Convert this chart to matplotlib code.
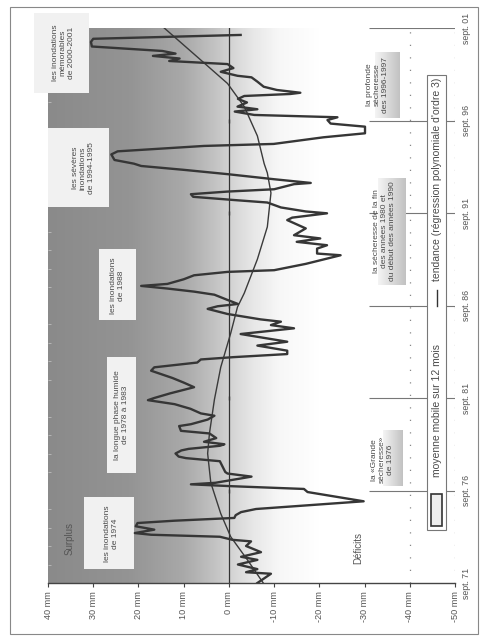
import matplotlib
matplotlib.use("Agg")
import matplotlib.pyplot as plt
from matplotlib.colors import LinearSegmentedColormap
from matplotlib.patches import Rectangle
from matplotlib.ticker import MultipleLocator
import numpy as np

# 12-month moving average of rainfall surplus/deficit, months counted from sept. 1971
months = [0, 6, 7, 9, 12, 15, 17, 20, 24, 27, 28, 30, 31.3, 32.4, 34.6, 36.8, 38.9, 40.4, 42.2,
          44, 46, 48, 53, 59, 61, 62.8, 64, 65, 69, 71, 72, 76, 79, 81, 82, 84, 86, 87, 89, 90,
          91.6, 94, 97, 98.7, 101.8, 103, 106, 108.5, 110, 113, 116, 118.6, 120, 123, 127, 130,
          133, 137.7, 139.9, 143, 145, 146.5, 148.5, 150.7, 154, 156.5, 160, 161.5, 165.2, 167.3,
          169.5, 171, 174.5, 177.8, 179.5, 181, 183.6, 187, 189, 191, 192.7, 194, 197, 199.6,
          201.8, 202.9, 207, 212.6, 213.7, 216.9, 219.1, 221.3, 223.5, 225.6, 230, 235.4, 237,
          239.8, 241, 243.6, 246.8, 248.4, 250.5, 252.2, 253.9, 255.4, 258.7, 259.5, 261.9, 265.2,
          268, 270.5, 272, 274.4, 278, 280, 283.5, 284.8, 289.1, 291.7, 296, 298, 300.3, 302.1,
          303.6, 305.8, 307.3, 309, 311.7, 314, 315.9, 317.2, 318, 319.8, 321.9, 325.2, 328, 329,
          331.6, 334, 336.6, 338.6, 340.2, 341.9, 343.4, 345.1, 348, 351, 353, 355.5]
values_mm = [-6.3, -9.3, -3.8, -6.3, -2.0, -6.3, -2.7, -7.1, -3.8, -4.9, -0.8, 2.0, 17.2, 20.8,
             16.5, 20.6, 20.2, 12.1, -1.2, -1.5, -2.7, -6.0, -29.8, -17.4, -16.6, -0.5, 8.4, 3.0,
             -5.0, 0.3, 0.8, 1.5, 2.0, 9.5, 11.1, 11.8, 10.5, 8.9, 2.0, 1.0, 5.5, 2.8, 4.3, 10.6,
             11.0, 8.4, 4.7, 3.2, 6.2, 8.5, 12.0, 17.9, 16.5, 13.0, 7.7, 10.0, 12.5, 17.2, 16.5,
             7.0, 6.2, -1.0, -12.9, -12.9, -6.3, -12.9, -5.6, -2.6, -14.4, -9.3, -11.5, -7.0, 0.3,
             4.7, 2.5, -2.0, 0.3, 3.2, 7.7, 13.6, 19.4, 13.6, 10.0, 7.7, 0.3, -10.0, -17.0, -24.7,
             -19.5, -19.5, -21.7, -15.0, -20.2, -14.4, -17.0, -12.9, -14.0, -21.7, -17.0, -11.5,
             -8.5, -1.2, 7.9, 8.4, 0.3, -10.0, -14.4, -18.1, -10.0, 0.3, 10.0, 19.4, 21.0, 25.3,
             26.0, 24.6, 5.5, -9.9, -20.9, -30.1, -30.1, -22.5, -21.8, -24.0, -5.6, -1.3, -6.3,
             -1.9, -4.0, -2.0, -3.4, -13.6, -15.8, -10.6, -7.7, -6.3, -5.0, -1.9, 1.8, -1.0, 0.3,
             13.2, 10.9, 16.8, 11.8, 14.7, 30.3, 30.5, 30.0, -2.6]

# polynomial trend (order 3)
trend_months = [0, 15, 30, 45, 65, 84, 97, 119, 140, 162, 179, 188, 210, 231, 253, 266, 272,
                290, 309, 324, 341, 360]
trend_mm = [-7.6, -4.1, -0.4, 1.8, 4.0, 4.7, 4.3, 3.2, 1.8, -0.4, -1.9, -3.4, -6.3, -8.5, -9.3,
            -8.5, -7.8, -6.3, -3.4, 0.3, 6.9, 14.3]

value_ticks = [40, 30, 20, 10, 0, -10, -20, -30, -40, -50]
value_labels = ["40 mm", "30 mm", "20 mm", "10 mm", "0 mm", "-10 mm", "-20 mm", "-30 mm",
                "-40 mm", "-50 mm"]
date_ticks = [0, 60, 120, 180, 240, 300, 360]
date_labels = ["sept. 71", "sept. 76", "sept. 81", "sept. 86", "sept. 91", "sept. 96", "sept. 01"]

plt.rcParams['font.family'] = ['Liberation Sans', 'DejaVu Sans']
txt = '#4a4a4a'

fig = plt.figure(figsize=(4.84, 6.37), dpi=100)
ax = fig.add_axes([48 / 484, 1 - 583 / 637, (455 - 48) / 484, (583 - 28) / 637])

# grey shading: surplus side dark, fading out on the deficit side
grey = LinearSegmentedColormap.from_list('g', [(0, '#8a8a8a'), (0.3, '#949494'), (0.5, '#a9a9a9'),
                                               (0.62, '#c4c4c4'), (0.667, '#d2d2d2'),
                                               (0.75, '#e6e6e6'), (0.85, '#f7f7f7'), (1, '#ffffff')])
ax.imshow(np.linspace(0, 1, 300).reshape(1, -1), extent=(40, -20, 0, 360), aspect='auto',
          cmap=grey, interpolation='bilinear', zorder=0)

ax.axvline(0, color='#333333', lw=0.9, zorder=3)
ax.plot(np.zeros(len(date_ticks) - 2), date_ticks[1:-1], ls='none', marker='|', ms=3,
        color='#333333', zorder=3)
ax.axvline(-40, color='#888888', lw=0.9, ls=(0, (1, 9)), zorder=1)
ax.axvline(-50, color='#888888', lw=0.9, ls=(0, (1, 9)), zorder=1)
ax.hlines(date_ticks[1:], -31, -50, color='#777777', lw=0.8, zorder=1)

# label boxes (surplus side)
for v0, v1, m0, m1 in [(43.0, 30.9, 317.8, 369.7), (40, 26.5, 243.9, 295.1),
                       (28.7, 20.5, 170.6, 216.6), (26.9, 20.5, 71.3, 146.6),
                       (32.0, 21.0, 9.1, 55.8)]:
    ax.add_patch(Rectangle((v0, m0), v1 - v0, m1 - m0, fc='#f1f1f1', ec='none', zorder=2,
                           clip_on=False))

# label boxes (deficit side), light to grey gradient
box_cmap = LinearSegmentedColormap.from_list('b', ['#f4f4f4', '#c2c2c2'])
for v0, v1, m0, m1 in [(-34.0, -38.4, 62.9, 99.2), (-32.9, -38.9, 193.3, 262.7),
                       (-32.2, -37.7, 301.6, 344.4)]:
    ax.imshow(np.linspace(0, 1, 50).reshape(1, -1), extent=(v0, v1, m0, m1), aspect='auto',
              cmap=box_cmap, zorder=1)
ax.set_xlim(40, -50)
ax.set_ylim(0, 360)

# data
ax.plot(trend_mm, trend_months, color='#3a3a3a', lw=1.0, zorder=4)
ax.plot(values_mm, months, color='#363636', lw=1.7, zorder=5)

# annotations
kw = dict(rotation=90, ha='center', va='center', multialignment='center', color=txt,
          fontsize=6, zorder=7, linespacing=1.25)
ax.text(36.6, 344, "les inondations\nmémorables\nde 2000-2001", clip_on=False, **kw)
ax.text(32.2, 269, "les sévères\ninondations\nde 1994-1995", **kw)
ax.text(24.7, 193, "les inondations\nde 1988", **kw)
ax.text(23.8, 109, "la longue phase humide\nde 1978 à 1983", **kw)
ax.text(26.0, 32, "les inondations\nde 1974", **kw)
ax.text(-34.0, 80, "la «Grande\nsécheresse»\nde 1976", **kw)
ax.text(-34.4, 228, "la sécheresse de la fin\ndes années 1980 et\ndu début des années 1990", **kw)
ax.text(-32.9, 323, "la profonde\nsécheresse\ndes 1996-1997", **kw)
ax.text(35.3, 29, "Surplus", rotation=90, ha='center', va='center', color='#555555', fontsize=7)
ax.text(-28.7, 23, "Déficits", rotation=90, ha='center', va='center', color='#555555', fontsize=7)

# legend drawn by hand, rotated like the rest
ax.add_patch(Rectangle((-43.9, 34.4), -4.2, 295, fc='white', ec='#777777', lw=0.8, zorder=4))
ax.add_patch(Rectangle((-44.6, 37), -2.6, 21, fc='#eeeeee', ec='#333333', lw=1.2, zorder=5))
ax.text(-46.1, 112, "moyenne mobile sur 12 mois", rotation=90, ha='center', va='center',
        color=txt, fontsize=7.5, zorder=6)
ax.plot([-46.1, -46.1], [180, 190], color='#333333', lw=1.0, zorder=6)
ax.text(-46.1, 262, "tendance (régression polynomiale d'ordre 3)", rotation=90, ha='center',
        va='center', color=txt, fontsize=7.5, zorder=6)

# axes
ax.set_xticks(value_ticks, value_labels, rotation=90, fontsize=6.6, color='#555555')
ax.tick_params(axis='x', length=3, width=0.8, color='#444444', pad=3)
ax.yaxis.tick_right()
ax.set_yticks(date_ticks, date_labels, rotation=90, va='center', fontsize=6.3, color='#555555')
ax.tick_params(axis='y', which='major', length=0, pad=5)
ax.yaxis.set_minor_locator(MultipleLocator(12))
ax.tick_params(axis='y', which='minor', left=True, right=False, direction='in', length=2.5,
               color='#bdbdbd')
for side in ['left', 'top', 'right']:
    ax.spines[side].set_visible(False)
ax.spines['bottom'].set_color('#444444')
ax.spines['bottom'].set_linewidth(1.0)

fig.add_artist(Rectangle((10 / 484, 1 - 634 / 637), 468 / 484, 627 / 637,
                         transform=fig.transFigure, fill=False, ec='#888888', lw=0.8))

fig.savefig('out.png', dpi=100)
